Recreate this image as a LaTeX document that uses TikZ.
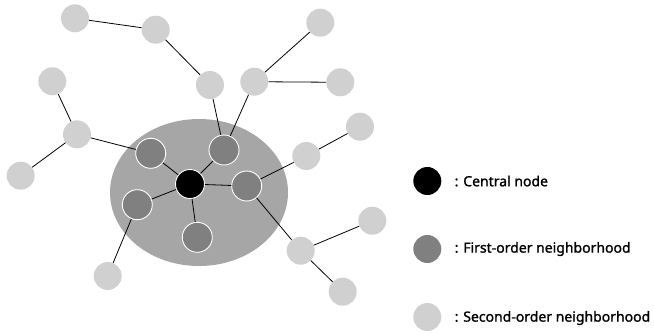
\documentclass[tikz,border=0pt]{standalone}
\usepackage{fontspec}
\setmainfont{Noto Sans}
\newfontfamily\keyfont[FakeBold=1.2]{Noto Sans}
\definecolor{centralc}{HTML}{000000}
\definecolor{firstc}{HTML}{808080}
\definecolor{secondc}{HTML}{D0D0D0}
\definecolor{zonec}{HTML}{A6A6A6}
\begin{document}
\begin{tikzpicture}[x=1pt,y=-1pt,
  central/.style={circle,fill=centralc,draw=white,line width=0.9pt,minimum size=29pt,inner sep=0pt},
  first/.style={circle,fill=firstc,draw=white,line width=0.9pt,minimum size=30pt,inner sep=0pt},
  second/.style={circle,fill=secondc,minimum size=28pt,inner sep=0pt},
  keydot/.style={circle,minimum size=28pt,inner sep=0pt},
  link/.style={draw=black,line width=0.8pt},
  keytext/.style={anchor=west,inner sep=0pt,font=\keyfont\fontsize{14}{16}\selectfont}]
\useasboundingbox (0,0) rectangle (654,335);
% first-order zone
\fill[zonec] (199,192.5) ellipse [x radius=89, y radius=73.5];
% nodes
\node[central] (c) at (190,184) {};
\node[first] (fa) at (150.7,153.3) {};
\node[first] (fb) at (224,150) {};
\node[first] (fc) at (246.7,186) {};
\node[first] (fd) at (137.3,204.7) {};
\node[first] (fe) at (197.3,237.3) {};
\node[second] (s1) at (75,18.3) {};
\node[second] (s2) at (155.7,29.7) {};
\node[second] (s3) at (210,85) {};
\node[second] (s4) at (254.3,81.7) {};
\node[second] (s5) at (320.3,22.7) {};
\node[second] (s6) at (340.3,82.3) {};
\node[second] (s7) at (52.3,81.3) {};
\node[second] (s8) at (77,134.3) {};
\node[second] (s9) at (20.7,175.7) {};
\node[second] (s10) at (360,126.7) {};
\node[second] (s11) at (306.3,156) {};
\node[second] (s12) at (372.3,220.7) {};
\node[second] (s13) at (300.7,250.7) {};
\node[second] (s14) at (342.7,291.7) {};
\node[second] (s15) at (107.7,276) {};
% links
\path[link] (c) -- (fa) (c) -- (fb) (c) -- (fc) (c) -- (fd) (c) -- (fe)
  (s1) -- (s2) (s2) -- (s3) (s3) -- (fb) (s4) -- (fb) (s4) -- (s5) (s4) -- (s6)
  (s7) -- (s8) (s8) -- (s9) (s8) -- (fa)
  (s10) -- (s11) (s11) -- (fc) (fc) -- (s13) (s13) -- (s12) (s13) -- (s14)
  (fd) -- (s15);
% legend
\node[keydot,fill=centralc] (k1) at (427.3,181) {};
\node[keydot,fill=firstc] (k2) at (427.3,249) {};
\node[keydot,fill=secondc] (k3) at (427.3,317) {};
\node[keytext] (t1) at (454.5,181) {: Central node};
\node[keytext] (t2) at (454.5,249) {: First-order neighborhood};
\node[keytext] (t3) at (454.5,318) {: Second-order neighborhood};
\end{tikzpicture}
\end{document}
